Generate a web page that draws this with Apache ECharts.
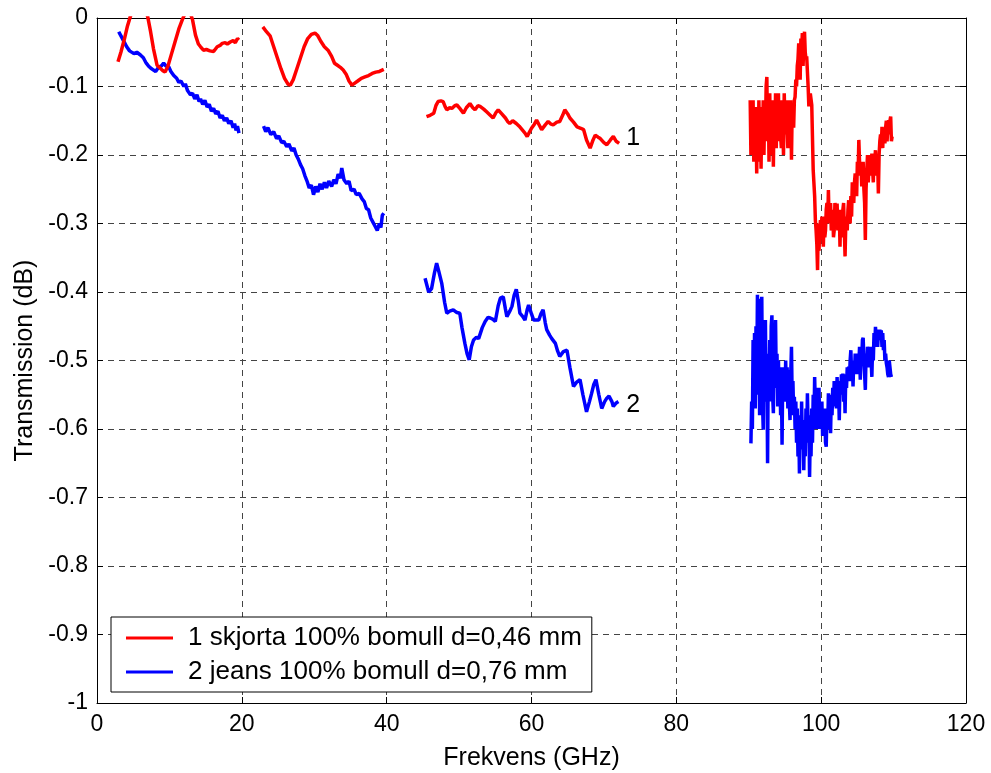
<!DOCTYPE html>
<html><head><meta charset="utf-8">
<script src="https://cdn.jsdelivr.net/npm/echarts@6/dist/echarts.min.js"></script>
<style>html,body{margin:0;padding:0;background:#fff}#c{width:991px;height:773px}</style>
</head><body><div id="c"></div>
<script>
// ---- axes ----
const xRange = [0, 120];
const xStep = 20;
const yRange = [-1, 0];
const yStep = 0.1;
const xTitle = 'Frekvens (GHz)';
const yTitle = 'Transmission (dB)';
const seriesNames = ['1 skjorta 100% bomull d=0,46 mm', '2 jeans 100% bomull d=0,76 mm'];
const seriesColors = ['#ff0000', '#0000ff'];

// ---- series 1 (red), four measured bands ----
const redSeg1 = [[2.9,-0.064],[3.3,-0.050],[3.8,-0.030],[4.2,-0.012],[4.6,0.002],[5.3,0.02],[6.3,0.02],[7.0,0.002],[7.4,-0.020],[7.8,-0.045],[8.3,-0.069],[8.7,-0.073],[9.1,-0.077],[9.4,-0.079],[9.8,-0.070],[10.3,-0.052],[10.8,-0.034],[11.3,-0.016],[11.8,-0.002],[12.3,0.01],[12.8,0.01],[13.2,-0.003],[13.6,-0.025],[14.0,-0.038],[14.3,-0.042],[14.7,-0.047],[15.1,-0.046],[15.6,-0.048],[16.1,-0.049],[16.6,-0.042],[17.0,-0.040],[17.3,-0.037],[17.7,-0.036],[18.0,-0.038],[18.4,-0.035],[18.8,-0.033],[19.1,-0.036],[19.4,-0.030],[19.6,-0.032]];
const redSeg2 = [[22.9,-0.013],[23.4,-0.020],[23.9,-0.026],[24.4,-0.042],[24.9,-0.058],[25.4,-0.074],[25.9,-0.088],[26.4,-0.097],[26.7,-0.098],[27.1,-0.090],[27.6,-0.074],[28.1,-0.058],[28.6,-0.042],[29.1,-0.030],[29.6,-0.024],[30.1,-0.022],[30.5,-0.026],[30.9,-0.034],[31.4,-0.042],[31.9,-0.047],[32.4,-0.056],[32.8,-0.066],[33.2,-0.069],[33.6,-0.072],[34.0,-0.076],[34.4,-0.082],[34.8,-0.092],[35.2,-0.098],[35.6,-0.095],[36.0,-0.092],[36.5,-0.088],[37.0,-0.086],[37.5,-0.084],[38.0,-0.081],[38.5,-0.079],[39.0,-0.078],[39.6,-0.075]];
const redSeg3 = [[45.5,-0.144],[46.0,-0.142],[46.5,-0.139],[46.8,-0.128],[47.1,-0.122],[47.5,-0.121],[47.8,-0.122],[48.1,-0.130],[48.3,-0.134],[48.7,-0.131],[49.0,-0.132],[49.4,-0.128],[49.7,-0.127],[50.1,-0.132],[50.6,-0.139],[51.0,-0.131],[51.5,-0.125],[51.9,-0.131],[52.2,-0.134],[52.6,-0.128],[52.9,-0.129],[53.4,-0.133],[53.8,-0.137],[54.3,-0.142],[54.7,-0.146],[55.1,-0.138],[55.4,-0.134],[55.9,-0.140],[56.4,-0.146],[56.7,-0.151],[57.0,-0.154],[57.4,-0.150],[57.9,-0.154],[58.3,-0.158],[58.7,-0.163],[59.1,-0.168],[59.4,-0.173],[59.7,-0.167],[60.0,-0.161],[60.4,-0.155],[60.7,-0.149],[61.1,-0.157],[61.4,-0.163],[61.9,-0.156],[62.3,-0.151],[62.7,-0.155],[63.0,-0.156],[63.5,-0.152],[63.9,-0.151],[64.3,-0.142],[64.6,-0.134],[65.0,-0.140],[65.3,-0.146],[65.8,-0.152],[66.3,-0.159],[66.8,-0.161],[67.2,-0.163],[67.6,-0.178],[68.1,-0.190],[68.5,-0.178],[68.8,-0.171],[69.2,-0.174],[69.5,-0.176],[70.0,-0.182],[70.4,-0.185],[70.9,-0.178],[71.3,-0.173],[71.7,-0.180],[72.1,-0.183]];
const redSeg4 = [[90.2,-0.12],[90.3,-0.20],[90.4,-0.13],[90.5,-0.19],[90.6,-0.12],[90.7,-0.21],[90.8,-0.13],[90.9,-0.20],[91.0,-0.14],[91.1,-0.227],[91.2,-0.13],[91.3,-0.21],[91.4,-0.12],[91.5,-0.19],[91.6,-0.14],[91.7,-0.22],[91.8,-0.13],[91.9,-0.18],[92.0,-0.12],[92.1,-0.20],[92.2,-0.13],[92.3,-0.17],[92.4,-0.10],[92.5,-0.086],[92.6,-0.18],[92.7,-0.12],[92.8,-0.21],[92.9,-0.11],[93.0,-0.19],[93.1,-0.13],[93.2,-0.20],[93.3,-0.12],[93.4,-0.217],[93.5,-0.13],[93.6,-0.18],[93.7,-0.11],[93.8,-0.19],[93.9,-0.12],[94.0,-0.17],[94.1,-0.11],[94.2,-0.18],[94.3,-0.13],[94.4,-0.17],[94.5,-0.19],[94.6,-0.12],[94.7,-0.16],[94.8,-0.20],[94.9,-0.11],[95.0,-0.15],[95.1,-0.17],[95.2,-0.12],[95.3,-0.16],[95.4,-0.19],[95.5,-0.12],[95.6,-0.15],[95.7,-0.16],[95.8,-0.12],[95.9,-0.207],[96.0,-0.13],[96.1,-0.15],[96.2,-0.16],[96.3,-0.12],[96.4,-0.115],[96.5,-0.09],[96.6,-0.10],[96.7,-0.07],[96.8,-0.06],[96.9,-0.037],[97.0,-0.08],[97.1,-0.09],[97.2,-0.03],[97.3,-0.05],[97.4,-0.022],[97.5,-0.07],[97.6,-0.04],[97.7,-0.020],[97.8,-0.05],[97.9,-0.06],[98.0,-0.056],[98.2,-0.10],[98.3,-0.129],[98.5,-0.11],[98.7,-0.127],[98.9,-0.222],[99.1,-0.26],[99.2,-0.295],[99.3,-0.31],[99.4,-0.33],[99.5,-0.368],[99.6,-0.30],[99.7,-0.34],[99.8,-0.31],[99.9,-0.295],[100.0,-0.32],[100.1,-0.29],[100.2,-0.31],[100.3,-0.334],[100.4,-0.29],[100.5,-0.32],[100.6,-0.31],[100.7,-0.28],[100.8,-0.27],[100.9,-0.30],[101.0,-0.251],[101.1,-0.30],[101.2,-0.28],[101.3,-0.27],[101.4,-0.31],[101.5,-0.305],[101.6,-0.28],[101.7,-0.32],[101.8,-0.31],[101.9,-0.27],[102.0,-0.28],[102.1,-0.30],[102.2,-0.271],[102.3,-0.31],[102.4,-0.30],[102.5,-0.28],[102.6,-0.334],[102.7,-0.28],[102.8,-0.31],[102.9,-0.32],[103.0,-0.28],[103.1,-0.27],[103.2,-0.31],[103.3,-0.348],[103.4,-0.30],[103.5,-0.29],[103.6,-0.31],[103.7,-0.28],[103.8,-0.266],[103.9,-0.29],[104.0,-0.30],[104.1,-0.26],[104.2,-0.290],[104.3,-0.24],[104.4,-0.26],[104.5,-0.27],[104.6,-0.24],[104.7,-0.227],[104.8,-0.25],[104.9,-0.26],[105.0,-0.21],[105.1,-0.23],[105.2,-0.178],[105.3,-0.21],[105.4,-0.23],[105.5,-0.21],[105.6,-0.246],[105.7,-0.22],[105.8,-0.21],[105.9,-0.25],[106.0,-0.27],[106.1,-0.324],[106.2,-0.25],[106.3,-0.222],[106.4,-0.20],[106.5,-0.24],[106.6,-0.22],[106.7,-0.20],[106.8,-0.22],[106.9,-0.23],[107.0,-0.198],[107.1,-0.22],[107.2,-0.24],[107.3,-0.20],[107.4,-0.21],[107.5,-0.193],[107.6,-0.22],[107.7,-0.23],[107.8,-0.21],[107.9,-0.256],[108.0,-0.20],[108.1,-0.18],[108.2,-0.17],[108.3,-0.19],[108.4,-0.159],[108.5,-0.19],[108.6,-0.16],[108.7,-0.17],[108.8,-0.183],[108.9,-0.16],[109.0,-0.15],[109.1,-0.18],[109.2,-0.16],[109.3,-0.149],[109.4,-0.17],[109.5,-0.15],[109.6,-0.144],[109.7,-0.18],[109.8,-0.173]];

// ---- series 2 (blue), four measured bands ----
const blueSeg1 = [[3.0,-0.020],[3.4,-0.028],[3.8,-0.036],[4.1,-0.042],[4.5,-0.048],[5.1,-0.052],[5.5,-0.050],[6.0,-0.054],[6.4,-0.058],[6.8,-0.066],[7.1,-0.070],[7.4,-0.073],[7.8,-0.076],[8.1,-0.078],[8.5,-0.072],[8.9,-0.070],[9.2,-0.066],[9.5,-0.070],[9.9,-0.071],[10.2,-0.078],[10.6,-0.084],[11.0,-0.088],[11.3,-0.094],[11.6,-0.092],[12.0,-0.100],[12.2,-0.096],[12.5,-0.106],[12.7,-0.104],[12.9,-0.112],[13.2,-0.110],[13.5,-0.118],[13.8,-0.112],[14.1,-0.122],[14.3,-0.118],[14.6,-0.126],[14.9,-0.120],[15.2,-0.130],[15.5,-0.126],[15.8,-0.136],[16.1,-0.132],[16.4,-0.140],[16.7,-0.136],[17.0,-0.146],[17.3,-0.142],[17.6,-0.150],[17.9,-0.146],[18.2,-0.154],[18.5,-0.150],[18.8,-0.160],[19.0,-0.154],[19.2,-0.164],[19.4,-0.158],[19.6,-0.168]];
const blueSeg2 = [[23.0,-0.158],[23.3,-0.166],[23.6,-0.160],[24.0,-0.170],[24.4,-0.166],[24.8,-0.176],[25.1,-0.172],[25.5,-0.182],[25.8,-0.180],[26.2,-0.188],[26.5,-0.184],[26.9,-0.194],[27.2,-0.190],[27.5,-0.200],[27.8,-0.206],[28.1,-0.214],[28.4,-0.220],[28.7,-0.230],[29.0,-0.238],[29.3,-0.248],[29.6,-0.244],[29.9,-0.258],[30.2,-0.246],[30.5,-0.254],[30.8,-0.242],[31.1,-0.250],[31.4,-0.240],[31.7,-0.248],[32.0,-0.238],[32.4,-0.246],[32.7,-0.236],[33.0,-0.242],[33.3,-0.228],[33.6,-0.234],[33.8,-0.219],[34.1,-0.236],[34.5,-0.242],[34.8,-0.238],[35.1,-0.252],[35.5,-0.250],[35.8,-0.258],[36.2,-0.256],[36.6,-0.264],[36.9,-0.268],[37.2,-0.278],[37.5,-0.280],[37.8,-0.292],[38.1,-0.298],[38.4,-0.304],[38.7,-0.310],[39.0,-0.300],[39.2,-0.306],[39.4,-0.288],[39.6,-0.285]];
const blueSeg3 = [[45.3,-0.380],[45.8,-0.400],[46.2,-0.395],[46.6,-0.372],[46.9,-0.358],[47.2,-0.370],[47.6,-0.387],[48.0,-0.415],[48.3,-0.431],[48.7,-0.428],[49.2,-0.426],[49.7,-0.430],[50.1,-0.431],[50.4,-0.452],[50.8,-0.475],[51.1,-0.490],[51.4,-0.499],[51.7,-0.480],[52.0,-0.470],[52.4,-0.466],[52.7,-0.468],[53.2,-0.452],[53.6,-0.443],[54.0,-0.437],[54.3,-0.438],[54.7,-0.440],[55.0,-0.443],[55.4,-0.420],[55.7,-0.409],[56.1,-0.407],[56.4,-0.425],[56.6,-0.436],[57.0,-0.428],[57.3,-0.421],[57.6,-0.405],[57.9,-0.396],[58.2,-0.415],[58.4,-0.431],[58.8,-0.436],[59.1,-0.441],[59.4,-0.426],[59.6,-0.419],[60.0,-0.432],[60.3,-0.441],[61.0,-0.441],[61.3,-0.432],[61.6,-0.426],[61.9,-0.445],[62.1,-0.455],[62.5,-0.463],[62.8,-0.468],[63.3,-0.475],[63.6,-0.486],[63.9,-0.494],[64.4,-0.487],[64.9,-0.485],[65.3,-0.510],[65.8,-0.538],[66.2,-0.532],[66.7,-0.528],[67.1,-0.550],[67.6,-0.575],[68.0,-0.560],[68.3,-0.548],[68.6,-0.535],[68.9,-0.528],[69.3,-0.550],[69.7,-0.570],[70.1,-0.560],[70.4,-0.555],[70.7,-0.552],[70.9,-0.550],[71.1,-0.560],[71.3,-0.567],[71.7,-0.562],[72.0,-0.560]];
const blueSeg4 = [[90.3,-0.621],[90.4,-0.56],[90.5,-0.60],[90.6,-0.47],[90.7,-0.55],[90.8,-0.46],[90.9,-0.57],[91.0,-0.45],[91.1,-0.54],[91.2,-0.404],[91.3,-0.55],[91.4,-0.44],[91.5,-0.58],[91.6,-0.41],[91.7,-0.52],[91.8,-0.407],[91.9,-0.56],[92.0,-0.601],[92.1,-0.48],[92.2,-0.55],[92.3,-0.441],[92.4,-0.56],[92.5,-0.50],[92.6,-0.650],[92.7,-0.49],[92.8,-0.55],[92.9,-0.47],[93.0,-0.56],[93.1,-0.45],[93.2,-0.434],[93.3,-0.55],[93.4,-0.577],[93.5,-0.47],[93.6,-0.54],[93.7,-0.441],[93.8,-0.53],[93.9,-0.49],[94.0,-0.567],[94.1,-0.50],[94.2,-0.56],[94.3,-0.51],[94.4,-0.58],[94.5,-0.52],[94.6,-0.623],[94.7,-0.51],[94.8,-0.55],[94.9,-0.52],[95.0,-0.56],[95.1,-0.50],[95.2,-0.55],[95.3,-0.51],[95.4,-0.57],[95.5,-0.514],[95.6,-0.56],[95.7,-0.587],[95.8,-0.52],[95.9,-0.480],[96.0,-0.56],[96.1,-0.53],[96.2,-0.58],[96.3,-0.553],[96.4,-0.60],[96.5,-0.56],[96.6,-0.62],[96.7,-0.57],[96.8,-0.64],[96.9,-0.59],[97.0,-0.665],[97.1,-0.58],[97.2,-0.63],[97.3,-0.56],[97.4,-0.62],[97.5,-0.587],[97.6,-0.66],[97.7,-0.59],[97.8,-0.64],[97.9,-0.57],[98.0,-0.62],[98.1,-0.548],[98.2,-0.60],[98.3,-0.58],[98.4,-0.67],[98.5,-0.60],[98.6,-0.64],[98.7,-0.57],[98.8,-0.62],[98.9,-0.55],[99.0,-0.60],[99.1,-0.524],[99.2,-0.57],[99.3,-0.54],[99.4,-0.60],[99.5,-0.55],[99.6,-0.58],[99.7,-0.54],[99.8,-0.60],[99.9,-0.56],[100.0,-0.60],[100.1,-0.56],[100.2,-0.61],[100.3,-0.58],[100.4,-0.61],[100.5,-0.57],[100.6,-0.62],[100.7,-0.626],[100.8,-0.57],[100.9,-0.60],[101.0,-0.548],[101.1,-0.59],[101.2,-0.56],[101.3,-0.606],[101.4,-0.55],[101.5,-0.58],[101.6,-0.54],[101.7,-0.567],[101.8,-0.53],[101.9,-0.56],[102.0,-0.53],[102.1,-0.57],[102.2,-0.524],[102.3,-0.56],[102.4,-0.54],[102.5,-0.587],[102.6,-0.53],[102.7,-0.55],[102.8,-0.52],[102.9,-0.55],[103.0,-0.519],[103.1,-0.56],[103.2,-0.53],[103.3,-0.577],[103.4,-0.52],[103.5,-0.54],[103.6,-0.51],[103.7,-0.53],[103.8,-0.509],[103.9,-0.53],[104.0,-0.50],[104.1,-0.485],[104.2,-0.52],[104.3,-0.50],[104.4,-0.538],[104.5,-0.50],[104.6,-0.52],[104.7,-0.49],[104.8,-0.51],[104.9,-0.499],[105.0,-0.52],[105.1,-0.49],[105.2,-0.51],[105.3,-0.48],[105.4,-0.528],[105.5,-0.49],[105.6,-0.50],[105.7,-0.47],[105.8,-0.467],[105.9,-0.50],[106.0,-0.52],[106.1,-0.543],[106.2,-0.49],[106.3,-0.51],[106.4,-0.48],[106.5,-0.490],[106.6,-0.51],[106.7,-0.48],[106.8,-0.51],[106.9,-0.50],[107.0,-0.524],[107.1,-0.48],[107.2,-0.50],[107.3,-0.46],[107.4,-0.48],[107.5,-0.451],[107.6,-0.47],[107.7,-0.455],[107.8,-0.48],[107.9,-0.46],[108.0,-0.47],[108.1,-0.455],[108.2,-0.47],[108.3,-0.456],[108.4,-0.48],[108.5,-0.46],[108.6,-0.485],[108.7,-0.47],[108.8,-0.50],[108.9,-0.49],[109.0,-0.504],[109.1,-0.51],[109.2,-0.52],[109.3,-0.524],[109.4,-0.50],[109.5,-0.499],[109.6,-0.52],[109.7,-0.524]];

// ---- curve labels ("1", "2") in data coordinates ----
const curveLabels = [[73.1, -0.175, '1'], [73.1, -0.565, '2']];

function joinSegments(segs) {
  const out = [];
  segs.forEach((s, i) => {
    if (i > 0) out.push([(segs[i-1][segs[i-1].length-1][0] + s[0][0]) / 2, '-']);
    s.forEach(p => out.push(p));
  });
  return out;
}

const FONT = 'Liberation Sans, Arial, sans-serif';
const chart = echarts.init(document.getElementById('c'), null, {renderer: 'canvas'});

const axisCommon = {
  axisLine: {show: true, onZero: false, lineStyle: {color: '#000', width: 1}},
  axisTick: {show: true, inside: true, length: 6, lineStyle: {color: '#000'}},
};

chart.setOption({
  animation: false,
  backgroundColor: '#fff',
  grid: {left: 97, right: 25, top: 18, bottom: 70, containLabel: false, outerBoundsMode: 'none'},
  xAxis: [
    Object.assign({}, axisCommon, {
      type: 'value', min: xRange[0], max: xRange[1], interval: xStep, position: 'bottom',
      axisLabel: {color: '#000', fontSize: 23, fontFamily: FONT, margin: 10},
      splitLine: {show: true, lineStyle: {color: '#444', type: [6, 5], width: 1}},
      name: xTitle, nameLocation: 'middle', nameGap: 43,
      nameTextStyle: {color: '#000', fontSize: 25, fontFamily: FONT}
    }),
    Object.assign({}, axisCommon, {
      type: 'value', min: xRange[0], max: xRange[1], interval: xStep, position: 'top',
      axisLabel: {show: false}, splitLine: {show: false}
    })
  ],
  yAxis: [
    Object.assign({}, axisCommon, {
      type: 'value', min: yRange[0], max: yRange[1], interval: yStep, position: 'left',
      axisLabel: {color: '#000', fontSize: 23, fontFamily: FONT, margin: 9},
      splitLine: {show: true, lineStyle: {color: '#444', type: [6, 5], width: 1}},
      name: yTitle, nameLocation: 'middle', nameGap: 58, nameRotate: 90,
      nameTextStyle: {color: '#000', fontSize: 25, fontFamily: FONT}
    }),
    Object.assign({}, axisCommon, {
      type: 'value', min: yRange[0], max: yRange[1], interval: yStep, position: 'right',
      axisLabel: {show: false}, splitLine: {show: false}
    })
  ],
  legend: {
    data: seriesNames,
    orient: 'vertical',
    left: 111, top: 617,
    padding: [8, 10, 7, 15],
    itemGap: 8,
    itemWidth: 47, itemHeight: 3,
    icon: 'rect',
    borderColor: '#000', borderWidth: 1, borderRadius: 0,
    backgroundColor: '#fff',
    textStyle: {color: '#000', fontSize: 26, fontFamily: FONT, lineHeight: 25, padding: [0, 0, 0, 10]}
  },
  series: [
    {
      name: seriesNames[0], type: 'line', data: joinSegments([redSeg1, redSeg2, redSeg3, redSeg4]),
      showSymbol: false, symbol: 'none', connectNulls: false, clip: true,
      itemStyle: {color: seriesColors[0]},
      lineStyle: {color: seriesColors[0], width: 3.5}, z: 3
    },
    {
      name: seriesNames[1], type: 'line', data: joinSegments([blueSeg1, blueSeg2, blueSeg3, blueSeg4]),
      showSymbol: false, symbol: 'none', connectNulls: false, clip: true,
      itemStyle: {color: seriesColors[1]},
      lineStyle: {color: seriesColors[1], width: 3.5}, z: 2
    },
    {
      name: 'curveLabels', type: 'custom', data: curveLabels, silent: true, z: 4,
      renderItem: function (params, api) {
        const pt = api.coord([api.value(0), api.value(1)]);
        return {
          type: 'text', x: pt[0], y: pt[1],
          style: {text: String(curveLabels[params.dataIndex][2]), fill: '#000', font: '25px ' + FONT,
                  textAlign: 'left', textVerticalAlign: 'middle'}
        };
      }
    }
  ]
});
</script>
</body></html>
